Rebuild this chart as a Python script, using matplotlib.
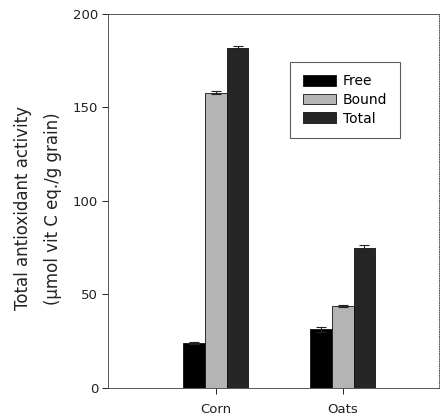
import matplotlib.pyplot as plt
import numpy as np

# data
grains = ['Corn', 'Oats']
series = ['Free', 'Bound', 'Total']
free_vals = [24.0, 31.3]
bound_vals = [158.0, 43.8]
total_vals = [181.8, 74.7]
free_err = [0.5, 1.4]
bound_err = [0.7, 0.6]
total_err = [1.0, 1.8]

colors = ['#000000', '#b4b4b4', '#262626']

fig = plt.figure(figsize=(4.4, 4.18), dpi=100)
ax = fig.add_axes([0.2455, 0.0718, 0.7525, 0.8947])

x = np.arange(len(grains))
width = 0.171
values = [free_vals, bound_vals, total_vals]
errors = [free_err, bound_err, total_err]

for i, (name, vals, errs, col) in enumerate(zip(series, values, errors, colors)):
    ax.bar(x + (i - 1) * width, vals, width, yerr=errs, color=col,
           edgecolor='#111111', linewidth=0.6, label=name,
           capsize=3.5, error_kw={'ecolor': '#222222', 'elinewidth': 0.8, 'capthick': 0.8})

ax.set_xlim(-0.85, 1.76)
ax.set_ylim(0, 200)
ax.set_yticks([0, 50, 100, 150, 200])
ax.set_xticks(x)
ax.set_xticklabels(grains)

for s in ax.spines.values():
    s.set_linewidth(0.7)
    s.set_color('#555555')
ax.spines['right'].set_linestyle((0, (1, 1.5)))
ax.tick_params(axis='both', direction='out', length=4, width=0.7,
               labelsize=9.5, colors='#222222', pad=3)
ax.tick_params(axis='x', pad=7)

ax.set_ylabel('Total antioxidant activity\n(\u00b5mol vit C eq./g grain)',
              fontsize=12, color='#222222', linespacing=1.8)
ax.yaxis.set_label_coords(-0.14, 0.48)

leg = ax.legend(loc='upper left', bbox_to_anchor=(0.55, 0.872), fontsize=10,
                handlelength=2.4, handleheight=0.8, frameon=True, fancybox=False,
                borderpad=0.9, borderaxespad=0, labelspacing=0.33, handletextpad=0.5)
leg.get_frame().set_edgecolor('#333333')
leg.get_frame().set_linewidth(0.8)

fig.savefig('out.png', dpi=100, facecolor='white')
